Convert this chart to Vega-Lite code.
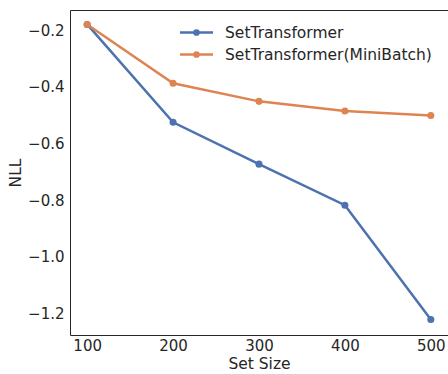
{
  "$schema": "https://vega.github.io/schema/vega-lite/v6.json",
  "width": 378,
  "height": 325,
  "autosize": "none",
  "padding": {"left": 70, "top": 10, "right": 0, "bottom": 39},
  "background": "white",
  "config": {
    "font": "DejaVu Sans",
    "view": {"stroke": "#262626", "strokeWidth": 1},
    "axis": {
      "domain": false,
      "grid": false,
      "ticks": false,
      "labelFont": "DejaVu Sans",
      "labelFontSize": 15,
      "labelColor": "#262626",
      "titleFont": "DejaVu Sans",
      "titleFontSize": 15.5,
      "titleFontWeight": "normal",
      "titleColor": "#262626"
    },
    "legend": {
      "labelFont": "DejaVu Sans",
      "labelFontSize": 15.5,
      "labelColor": "#262626",
      "labelLimit": 400
    }
  },
  "data": {
    "values": [
      {"size": 100, "nll": -0.179, "model": "SetTransformer"},
      {"size": 200, "nll": -0.525, "model": "SetTransformer"},
      {"size": 300, "nll": -0.673, "model": "SetTransformer"},
      {"size": 400, "nll": -0.818, "model": "SetTransformer"},
      {"size": 500, "nll": -1.222, "model": "SetTransformer"},
      {"size": 100, "nll": -0.179, "model": "SetTransformer(MiniBatch)"},
      {"size": 200, "nll": -0.387, "model": "SetTransformer(MiniBatch)"},
      {"size": 300, "nll": -0.451, "model": "SetTransformer(MiniBatch)"},
      {"size": 400, "nll": -0.485, "model": "SetTransformer(MiniBatch)"},
      {"size": 500, "nll": -0.501, "model": "SetTransformer(MiniBatch)"}
    ]
  },
  "mark": {"type": "line", "strokeWidth": 2.5, "point": {"filled": true, "size": 50, "opacity": 1}},
  "encoding": {
    "x": {
      "field": "size",
      "type": "quantitative",
      "title": "Set Size",
      "scale": {"domain": [80, 520], "nice": false, "zero": false},
      "axis": {"values": [100, 200, 300, 400, 500], "labelPadding": 3, "titlePadding": 3}
    },
    "y": {
      "field": "nll",
      "type": "quantitative",
      "title": "NLL",
      "scale": {"domain": [-1.277, -0.128], "nice": false, "zero": false},
      "axis": {"values": [-1.2, -1.0, -0.8, -0.6, -0.4, -0.2], "format": ".1f", "labelPadding": 6, "titlePadding": 4}
    },
    "color": {
      "field": "model",
      "type": "nominal",
      "scale": {"range": ["#4c72b0", "#dd8452"]},
      "legend": {
        "title": null,
        "orient": "none",
        "legendX": 114,
        "legendY": 10,
        "padding": 0,
        "rowPadding": 1,
        "labelOffset": 16,
        "symbolSize": 484,
        "symbolStrokeWidth": 2.5,
        "symbolType": "M-1.5,0H1.5M0.19,0A0.19,0.19,0,1,1,-0.19,0A0.19,0.19,0,1,1,0.19,0Z",
        "encode": {
          "symbols": {
            "update": {
              "fill": {"scale": "color", "field": "value"},
              "stroke": {"scale": "color", "field": "value"},
              "opacity": {"value": 1}
            }
          }
        }
      }
    }
  }
}
